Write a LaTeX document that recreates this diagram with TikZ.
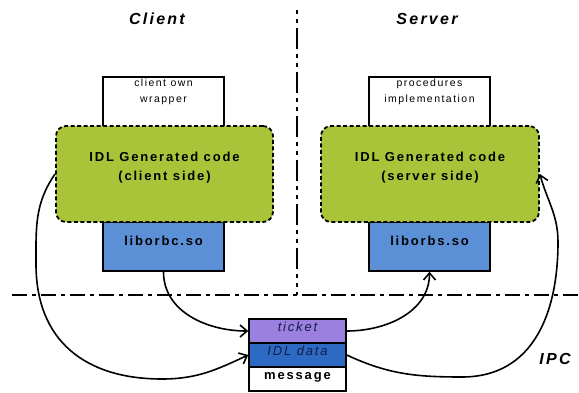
\documentclass[tikz,border=0pt]{standalone}
\usepackage{fontspec}
\setmainfont{Liberation Sans}
\newfontfamily\trackfont[LetterSpace=14]{Liberation Sans}
\usetikzlibrary{arrows.meta}
\definecolor{idlgreen}{RGB}{169,196,56}
\definecolor{libblue}{RGB}{91,144,214}
\definecolor{ticketpurple}{RGB}{156,128,224}
\definecolor{idlblue}{RGB}{44,106,196}
\definecolor{navytext}{RGB}{20,28,66}
\tikzset{
  plainbox/.style={draw=black, line width=1.5pt, inner sep=0pt, fill=white},
  libbox/.style={plainbox, fill=libblue},
  gencode/.style={draw=black, fill=idlgreen, line width=1.8pt, dash pattern=on 4pt off 2.5pt, rounded corners=10pt, inner sep=0pt},
  cell/.style={draw=black, line width=1.5pt, inner sep=0pt, minimum width=97pt, minimum height=24pt},
  divider/.style={line width=1.5pt},
  flow/.style={line width=1.6pt, -{Straight Barb[length=7pt,width=12pt,line width=1.6pt]}},
  title/.style={font=\trackfont\fontsize{16}{19}\selectfont\bfseries\itshape, anchor=base, inner sep=0pt},
  small/.style={font=\trackfont\fontsize{10.5}{16}\selectfont, align=center, inner sep=0pt},
  gentext/.style={font=\trackfont\fontsize{13}{19}\selectfont\bfseries, align=center, inner sep=0pt},
  libtext/.style={font=\trackfont\fontsize{13}{15}\selectfont\bfseries, anchor=base, inner sep=0pt},
  celltext/.style={font=\trackfont\fontsize{13}{15}\selectfont, inner sep=0pt}
}
\begin{document}
\begin{tikzpicture}[x=1pt,y=1pt]
\useasboundingbox (0,0) rectangle (579,392);

% titles
\node[title] (tclient) at (157,367) {Client};
\node[title] (tserver) at (427,367) {Server};
\node[title] (tipc) at (555,28) {IPC};

% dividers
\coordinate (vt) at (297,382);
\coordinate (vb) at (297,97);
\coordinate (hl) at (12,97);
\coordinate (hr) at (579,97);
\draw[divider, dash pattern=on 4pt off 5pt on 4pt off 5pt on 21pt off 5pt] (vt) -- (vb);
\draw[divider, dash pattern=on 15pt off 5pt on 4pt off 5pt] (hl) -- (hr);

% client side
\node[plainbox, minimum width=121pt, minimum height=75pt] (cw) at (163.5,277.5) {};
\node[libbox, minimum width=121pt, minimum height=49pt] (lc) at (163.5,145.5) {};
\node[gencode, minimum width=217pt, minimum height=96pt] (cg) at (164.5,218) {};
\node[small] (cwt) at (163.5,300) {client own\\wrapper};
\node[gentext] (cgt) at (164.5,224) {IDL Generated code\\(client side)};
\node[libtext] (lct) at (163.5,147) {liborbc.so};

% server side
\node[plainbox, minimum width=121pt, minimum height=75pt] (sw) at (429.5,277.5) {};
\node[libbox, minimum width=121pt, minimum height=49pt] (ls) at (429.5,145.5) {};
\node[gencode, minimum width=218pt, minimum height=96pt] (sg) at (430,218) {};
\node[small] (swt) at (429.5,300) {procedures\\implementation};
\node[gentext] (sgt) at (430,224) {IDL Generated code\\(server side)};
\node[libtext] (lst) at (429.5,147) {liborbs.so};

% message
\node[cell, fill=ticketpurple] (tk) at (297.5,61) {};
\node[cell, fill=idlblue] (id) at (297.5,37) {};
\node[cell, fill=white] (ms) at (297.5,13) {};
\node[celltext, font=\trackfont\fontsize{13}{15}\selectfont\itshape, text=navytext] (tkt) at (297.5,65) {ticket};
\node[celltext, font=\trackfont\fontsize{13}{15}\selectfont\itshape, text=navytext] (idt) at (297.5,41) {IDL data};
\node[celltext, font=\trackfont\fontsize{13}{15}\selectfont\bfseries] (mst) at (297.5,15) {message};

% connectors
\coordinate (lA) at (36,128);
\coordinate (lB) at (162,13);
\coordinate (rA) at (558,150);
\coordinate (rB) at (462,15);
\draw[flow] (lc.south) to[out=-90,in=180] (tk.west);
\draw[flow] (tk.east) to[out=0,in=-90] (ls.south);
\draw[flow] (cg.west) to[out=235,in=90] (lA) to[out=-90,in=180,looseness=1.15] (lB) to[out=0,in=205] (id.west);
\draw[flow] (id.east) to[out=-25,in=180] (rB) to[out=0,in=-90,looseness=1.1] (rA) to[out=90,in=-75] (sg.east);
\end{tikzpicture}
\end{document}
